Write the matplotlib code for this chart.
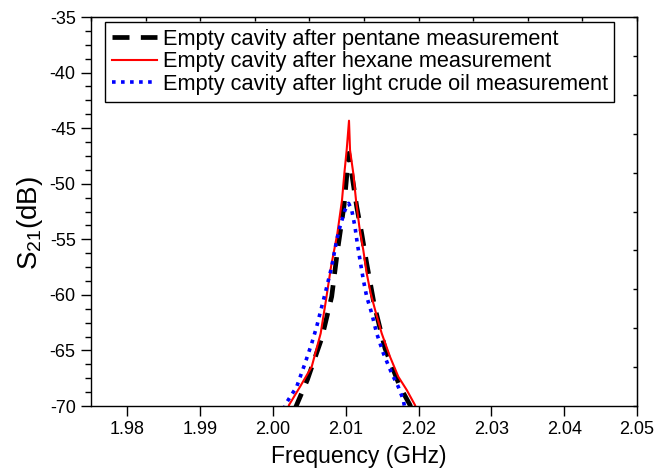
import numpy as np
import matplotlib
matplotlib.use("Agg")
import matplotlib.pyplot as plt


# ==========================================================
# DONNÉES
# ==========================================================

freq_pentane = [2.00300, 2.00325, 2.00471, 2.00669, 2.00806, 2.00884, 2.00975,
                2.01012, 2.01040, 2.01081, 2.01150, 2.01218, 2.01287, 2.01391,
                2.01538, 2.01744, 2.01882, 2.01900]
s21_pentane = [-70.3, -69.9, -67.66, -63.91, -60.16, -56.11, -52.0,
               -49.37, -47.27, -49.07, -52.07, -54.47, -57.17, -60.91,
               -64.81, -68.27, -69.91, -70.3]

freq_hexane = [2.00200, 2.00220, 2.00371, 2.00532, 2.00655, 2.00728, 2.00797,
               2.00884, 2.00948, 2.00980, 2.01012, 2.01044, 2.01058, 2.01103,
               2.01140, 2.01186, 2.01240, 2.01287, 2.01342, 2.01415, 2.01493,
               2.01607, 2.01721, 2.01837, 2.01950, 2.01970]
s21_hexane = [-70.4, -69.91, -68.27, -66.46, -63.46, -60.46, -57.47,
              -54.47, -51.47, -49.07, -46.97, -44.33, -46.97, -49.07,
              -51.47, -53.87, -55.96, -58.06, -59.86, -61.66, -63.46,
              -65.56, -67.36, -68.56, -69.91, -70.3]

freq_crude = [2.00150, 2.00165, 2.00325, 2.00440, 2.00532, 2.00600, 2.00669,
              2.00728, 2.00806, 2.00875, 2.00920, 2.00989, 2.01040, 2.01081,
              2.01126, 2.01158, 2.01195, 2.01241, 2.01287, 2.01356, 2.01424,
              2.01516, 2.01630, 2.01721, 2.01790, 2.01810]
s21_crude = [-70.3, -69.91, -68.27, -66.16, -64.36, -62.86, -61.07,
             -59.56, -57.47, -55.07, -53.87, -52.37, -51.77, -52.37,
             -53.87, -55.37, -56.86, -58.66, -60.16, -61.66, -63.46,
             -65.26, -67.06, -68.27, -69.46, -70.2]

labels = [
    "Empty cavity after pentane measurement",
    "Empty cavity after hexane measurement",
    "Empty cavity after light crude oil measurement",
]

x_ticks = [1.98, 1.99, 2.00, 2.01, 2.02, 2.03, 2.04, 2.05]
x_ticklabels = ["1.98", "1.99", "2.00", "2.01", "2.02", "2.03", "2.04", "2.05"]
y_ticks = [-70, -65, -60, -55, -50, -45, -40, -35]


# ==========================================================
# FIGURE
# ==========================================================

plt.rcParams["font.family"] = ["Liberation Sans", "DejaVu Sans"]
plt.rcParams["axes.unicode_minus"] = False

fig = plt.figure(figsize=(6.54, 4.69), dpi=100)
ax = fig.add_axes([91 / 654, 1 - 406 / 469, 546 / 654, 389 / 469])

ax.plot(freq_pentane, s21_pentane, color="black", linewidth=3.4,
        linestyle=(0, (3.6, 2.4)), label=labels[0])
ax.plot(freq_hexane, s21_hexane, color="#ff0000", linewidth=1.5,
        label=labels[1])
ax.plot(freq_crude, s21_crude, color="#0000ff", linewidth=2.6,
        linestyle=(0, (1, 1.5)), label=labels[2])

ax.set_xlim(1.975, 2.05)
ax.set_ylim(-70, -35)

ax.set_xticks(x_ticks)
ax.set_xticklabels(x_ticklabels)
ax.set_yticks(y_ticks)
ax.set_yticks(np.arange(-70, -34, 1.25), minor=True)

ax.tick_params(axis="both", which="major", direction="out", length=7,
               width=1, labelsize=13, pad=4, colors="black")
ax.tick_params(axis="y", which="minor", direction="out", length=4, width=1)

for s in ax.spines.values():
    s.set_linewidth(1.0)

# petits tirets intérieurs en haut et à droite
top = ax.secondary_xaxis("top")
top.set_xticks(np.linspace(1.975, 2.05, 11))
top.tick_params(direction="in", length=3, width=1, labeltop=False)
right = ax.secondary_yaxis("right")
right.set_yticks(np.linspace(-70, -35, 11))
right.tick_params(direction="in", length=3, width=1, labelright=False)

ax.set_xlabel("Frequency (GHz)", fontsize=16.5)
ax.xaxis.set_label_coords(0.49, -0.1)
ax.set_ylabel(r"$\mathregular{S_{21}}$(dB)", fontsize=20)
ax.yaxis.set_label_coords(-0.084, 0.47)

leg = ax.legend(loc="upper left", bbox_to_anchor=(0.0256, 0.987),
                fontsize=15.7, frameon=True, fancybox=False,
                edgecolor="black", framealpha=1, borderpad=0.3,
                labelspacing=0.08, handlelength=2.1, handletextpad=0.25,
                borderaxespad=0)
leg.get_frame().set_linewidth(1.0)

fig.savefig("out.png", dpi=100)
